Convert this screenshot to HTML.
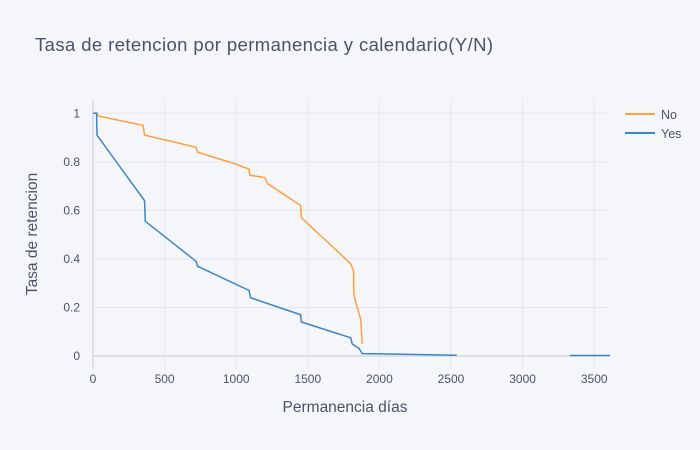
<!DOCTYPE html>
<html><head><meta charset="utf-8"><style>
body{margin:0;background:#f5f6fa;}
svg{display:block;font-family:"Liberation Sans",sans-serif;}
</style></head><body>
<svg width="700" height="450" viewBox="0 0 700 450">
<rect width="700" height="450" fill="#f5f6fa"/>
<text x="35" y="51" font-size="18.5" letter-spacing="0.4" fill="#4a5366">Tasa de retencion por permanencia y calendario(Y/N)</text>
<g id="grid"></g>
<g id="series"></g>
<g id="ticks"></g>
<text x="345" y="412" font-size="15.5" fill="#4a5366" text-anchor="middle">Permanencia días</text>
<text transform="translate(37,234) rotate(-90)" font-size="15.5" fill="#4a5366" text-anchor="middle">Tasa de retencion</text>
<g>
<line x1="625" y1="114" x2="655" y2="114" stroke="#ff9f3f" stroke-width="2"/>
<text x="661" y="119" font-size="12.5" fill="#4a5366">No</text>
</g>
<g>
<line x1="625" y1="133" x2="655" y2="133" stroke="#3d85c6" stroke-width="2"/>
<text x="661" y="138" font-size="12.5" fill="#4a5366">Yes</text>
</g>
</svg>
<script>
const xTicks=[0,500,1000,1500,2000,2500,3000,3500];
const yTicks=[0,0.2,0.4,0.6,0.8,1];
const yTickLabels=["0","0.2","0.4","0.6","0.8","1"];
const noDays=[0,30,30,350,360,720,730,1000,1090,1095,1200,1220,1450,1455,1800,1820,1822,1870,1880];
const noVals=[1,1,0.99,0.95,0.91,0.86,0.84,0.79,0.77,0.745,0.735,0.71,0.62,0.57,0.38,0.35,0.25,0.15,0.05];
const yesDays=[0,25,28,360,365,720,730,1090,1100,1450,1455,1800,1810,1860,1880,2540];
const yesVals=[1,1,0.91,0.64,0.555,0.39,0.37,0.27,0.24,0.17,0.14,0.075,0.05,0.03,0.01,0.003];
const yesTailDays=[3330,3610];
const yesTailVals=[0.002,0.002];
const NS="http://www.w3.org/2000/svg";
const X0=93,X1=610,Y0=356,Y1=113.3,PXD=71.6/500;
const xs=d=>X0+d*PXD, ys=v=>Y0-(Y0-Y1)*v;
function mk(t,a,p){const e=document.createElementNS(NS,t);for(const k in a)e.setAttribute(k,a[k]);p.appendChild(e);return e;}
const grid=document.getElementById('grid'),ticks=document.getElementById('ticks'),ser=document.getElementById('series');
xTicks.forEach(t=>{
 const l=mk('line',{x1:xs(t),x2:xs(t),y1:100,y2:369,stroke:t===0?'#dde0e8':'#e6e8ef','stroke-width':t===0?2:1},grid);
 
 
 const tx=mk('text',{x:xs(t),y:383,'font-size':12,fill:'#4a5366','text-anchor':'middle'},ticks);
 tx.textContent=String(t);
 
 
});
yTicks.forEach((t,i)=>{
 const l=mk('line',{x1:X0,x2:X1,y1:ys(t),y2:ys(t),stroke:t===0?'#dde0e8':'#e6e8ef','stroke-width':t===0?2:1},grid);
 
 
 const tx=mk('text',{x:80,y:ys(t)+4,'font-size':12,fill:'#4a5366','text-anchor':'end'},ticks);
 tx.textContent=yTickLabels[i];
 
 
});
function linePath(ds,vs){let d='M'+xs(ds[0])+','+ys(vs[0]);for(let i=1;i<ds.length;i++){d+='L'+xs(ds[i])+','+ys(vs[i]);}return d;}
const pn=mk('path',{d:linePath(noDays,noVals),fill:'none',stroke:'#ff9f3f','stroke-width':1.5},ser);


const py=mk('path',{d:linePath(yesDays,yesVals),fill:'none',stroke:'#3d85c6','stroke-width':1.5},ser);


const pt=mk('path',{d:linePath(yesTailDays,yesTailVals),fill:'none',stroke:'#3d85c6','stroke-width':1.5},ser);


</script>
</body></html>
